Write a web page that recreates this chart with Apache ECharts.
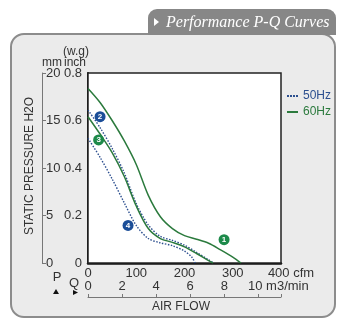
<!DOCTYPE html>
<html>
<head>
<meta charset="utf-8">
<script src="https://cdn.jsdelivr.net/npm/echarts@6/dist/echarts.min.js"></script>
<style>
html,body{margin:0;padding:0;background:#fff;}
#c{width:360px;height:327px;}
</style>
</head>
<body>
<div id="c"></div>
<script>
// ---- data ----
const cfmTicks = [0, 100, 200, 300, 400];
const m3Ticks = [0, 2, 4, 6, 8, 10];
const inchTicks = [0, 0.2, 0.4, 0.6, 0.8];
const mmTicks = [0, 5, 10, 15, 20];

// Curve 1 (60Hz)
const curve1Q = [0, 25, 50, 75, 100, 125, 150, 175, 200, 225, 250, 275, 300, 317];
const curve1P = [0.735, 0.676, 0.6, 0.515, 0.415, 0.285, 0.195, 0.145, 0.115, 0.1, 0.083, 0.055, 0.025, 0];
// Curve 2 (50Hz)
const curve2Q = [0, 25, 50, 75, 100, 125, 150, 175, 200, 225, 250, 260];
const curve2P = [0.644, 0.57, 0.483, 0.38, 0.25, 0.16, 0.112, 0.095, 0.075, 0.045, 0.013, 0];
// Curve 3 (60Hz)
const curve3Q = [0, 25, 50, 75, 100, 125, 150, 175, 200, 225, 250, 259];
const curve3P = [0.616, 0.543, 0.465, 0.365, 0.24, 0.145, 0.103, 0.087, 0.068, 0.04, 0.01, 0];
// Curve 4 (50Hz)
const curve4Q = [0, 25, 50, 75, 100, 125, 150, 175, 200, 215, 222];
const curve4P = [0.525, 0.445, 0.354, 0.254, 0.158, 0.103, 0.085, 0.073, 0.05, 0.025, 0];

// Curve number badges
const badgeLabels = ['1', '2', '3', '4'];
const badgeQ = [282, 25, 22, 83];
const badgeP = [0.098, 0.616, 0.518, 0.158];
const badgeFreq = ['60Hz', '50Hz', '60Hz', '50Hz'];

const CFM_PER_M3MIN = 35.3147;

// ---- styling ----
const GREEN = '#2b7a3d';
const BLUE = '#2c4f8f';
const BADGE_GREEN = '#1d8a4a';
const BADGE_BLUE = '#1b4e98';
const TXT = '#333';
const FONT = 'Liberation Sans, Arial, sans-serif';

function zip(a, b) { return a.map((v, i) => [v, b[i]]); }

function lineSeries(name, q, p) {
  const is50 = name === '50Hz';
  return {
    type: 'line', name: name, xAxisIndex: 0, yAxisIndex: 0,
    data: zip(q, p), symbol: 'none', showSymbol: false, smooth: 0.3,
    lineStyle: { color: is50 ? BLUE : GREEN, width: is50 ? 1.4 : 1.5, type: is50 ? [1.5, 1.5] : 'solid' },
    itemStyle: { color: is50 ? BLUE : GREEN },
    z: 3
  };
}

const chart = echarts.init(document.getElementById('c'), null, { renderer: 'canvas', width: 360, height: 327 });

const option = {
  animation: false,
  textStyle: { fontFamily: FONT },
  grid: {
    left: 88, top: 73, width: 193, height: 190,
    show: true, backgroundColor: '#fff', borderColor: '#222', borderWidth: 1.5, z: 1
  },
  legend: {
    orient: 'vertical', left: 282, top: 85, itemWidth: 11, itemHeight: 2, itemGap: 4,
    textStyle: { fontSize: 12, fontFamily: FONT },
    data: [
      { name: '50Hz', icon: 'path://M0,0h2v2h-2zM3,0h2v2h-2zM6,0h2v2h-2zM9,0h2v2h-2z', textStyle: { color: BLUE } },
      { name: '60Hz', icon: 'rect', textStyle: { color: GREEN } }
    ]
  },
  xAxis: [
    {
      type: 'value', min: cfmTicks[0], max: cfmTicks[cfmTicks.length - 1], interval: cfmTicks[1] - cfmTicks[0],
      position: 'bottom',
      axisLine: { show: true, onZero: false, lineStyle: { color: '#111', width: 2.5 } },
      axisTick: { show: false },
      splitLine: { show: false },
      axisLabel: {
        color: TXT, fontSize: 13, margin: 4,
        formatter: v => v === cfmTicks[cfmTicks.length - 1] ? '{sp|}' + v + ' cfm' : String(v),
        rich: { sp: { width: 20 } }
      }
    },
    {
      type: 'value', min: 0, max: cfmTicks[cfmTicks.length - 1] / CFM_PER_M3MIN, interval: m3Ticks[1] - m3Ticks[0],
      position: 'bottom', offset: 34,
      axisLine: { show: true, onZero: false, lineStyle: { color: '#777', width: 1 } },
      axisTick: { show: true, inside: true, length: 3, lineStyle: { color: '#777' } },
      splitLine: { show: false },
      showMaxLabel: false,
      axisLabel: {
        inside: true, color: TXT, fontSize: 13, margin: 4,
        formatter: v => {
          if (Math.abs(v - Math.round(v)) > 1e-6) return '';
          if (v === m3Ticks[m3Ticks.length - 1]) return '{sp|}' + v + ' m3/min';
          return String(v);
        },
        rich: { sp: { width: 40 } }
      }
    }
  ],
  yAxis: [
    {
      type: 'value', min: inchTicks[0], max: inchTicks[inchTicks.length - 1], interval: inchTicks[1] - inchTicks[0],
      position: 'left',
      axisLine: { show: true, onZero: false, lineStyle: { color: '#111', width: 2 } },
      axisTick: { show: false },
      splitLine: { show: true, lineStyle: { color: '#c4c4c4', width: 1 } },
      axisLabel: { color: TXT, fontSize: 13, margin: 6, formatter: v => v === 0 ? '0' : v.toFixed(1) }
    },
    {
      type: 'value', min: mmTicks[0], max: mmTicks[mmTicks.length - 1], interval: mmTicks[1] - mmTicks[0],
      position: 'left', offset: 46,
      axisLine: { show: true, onZero: false, lineStyle: { color: '#777', width: 1 } },
      axisTick: { show: true, inside: true, length: 4, lineStyle: { color: '#777' } },
      splitLine: { show: false },
      axisLabel: { inside: true, color: TXT, fontSize: 13, margin: 4 }
    }
  ],
  series: [
    lineSeries('60Hz', curve1Q, curve1P),
    lineSeries('50Hz', curve2Q, curve2P),
    lineSeries('60Hz', curve3Q, curve3P),
    lineSeries('50Hz', curve4Q, curve4P),
    {
      type: 'scatter', name: 'badges', xAxisIndex: 0, yAxisIndex: 0, symbolSize: 11, z: 5,
      data: badgeLabels.map((l, i) => ({
        value: [badgeQ[i], badgeP[i]], name: l,
        itemStyle: { color: badgeFreq[i] === '50Hz' ? BADGE_BLUE : BADGE_GREEN, opacity: 1 }
      })),
      itemStyle: { opacity: 1 },
      label: { show: true, position: 'inside', formatter: p => p.name, color: '#fff', fontSize: 8, fontWeight: 'bold', fontFamily: FONT }
    }
  ],
  graphic: [
    // panel
    { type: 'rect', z: -10, shape: { x: 11, y: 34, width: 324, height: 283, r: 13 },
      style: { fill: '#ebebeb', stroke: '#8c8c8c', lineWidth: 2 } },
    // tab
    { type: 'rect', z: -9, shape: { x: 148, y: 9, width: 188, height: 26, r: [9, 9, 0, 0] },
      style: { fill: '#878787' } },
    { type: 'polygon', z: -8, shape: { points: [[154, 18], [159, 22], [154, 26]] }, style: { fill: '#fff' } },
    { type: 'text', z: -8, style: { x: 166, y: 22.5, text: 'Performance P-Q Curves', fill: '#fff',
      font: 'italic 16px "Liberation Serif", "DejaVu Serif", serif', verticalAlign: 'middle' } },
    // axis headings
    { type: 'text', style: { x: 76, y: 52, text: '(w.g)', fill: TXT, font: '12px ' + FONT, align: 'center', verticalAlign: 'middle' } },
    { type: 'text', style: { x: 75, y: 63, text: 'inch', fill: TXT, font: '12px ' + FONT, align: 'center', verticalAlign: 'middle' } },
    { type: 'text', style: { x: 52, y: 63, text: 'mm', fill: TXT, font: '12px ' + FONT, align: 'center', verticalAlign: 'middle' } },
    { type: 'text', rotation: Math.PI / 2, x: 30, y: 166,
      style: { x: 0, y: 0, text: 'STATIC PRESSURE H2O', fill: TXT, font: '12px ' + FONT, align: 'center', verticalAlign: 'middle' } },
    // P / Q markers
    { type: 'text', style: { x: 57, y: 277, text: 'P', fill: TXT, font: '13px ' + FONT, align: 'center', verticalAlign: 'middle' } },
    { type: 'polygon', shape: { points: [[53, 294], [56, 289], [59, 294]] }, style: { fill: '#111' } },
    { type: 'text', style: { x: 74, y: 283, text: 'Q', fill: TXT, font: '13px ' + FONT, align: 'center', verticalAlign: 'middle' } },
    { type: 'polygon', shape: { points: [[73, 290], [78, 292.5], [73, 295]] }, style: { fill: '#111' } },
    { type: 'text', style: { x: 181, y: 307, text: 'AIR FLOW', fill: TXT, font: '12px ' + FONT, align: 'center', verticalAlign: 'middle' } }
  ]
};
chart.setOption(option);
</script>
</body>
</html>
